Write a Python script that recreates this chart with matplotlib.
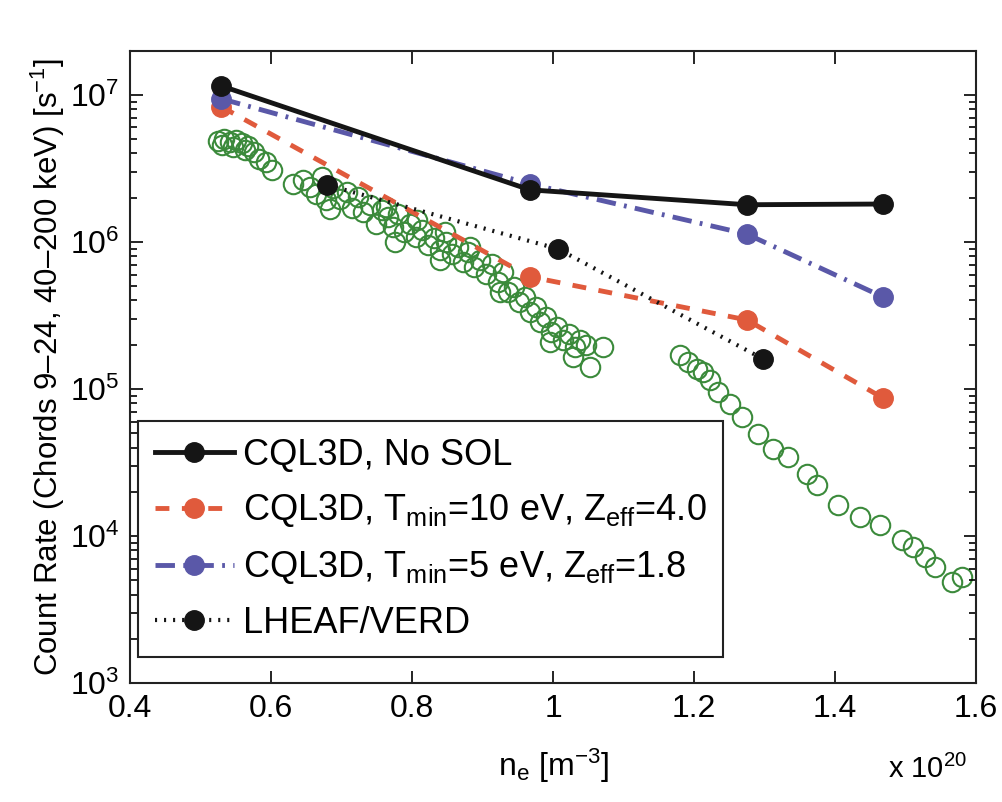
import matplotlib
matplotlib.use("Agg")
import matplotlib.pyplot as plt
from matplotlib.ticker import LogLocator, NullFormatter, FixedLocator

plt.rcParams['font.family'] = ['Liberation Sans', 'DejaVu Sans']
plt.rcParams['mathtext.default'] = 'regular'
plt.rcParams['mathtext.fontset'] = 'custom'
plt.rcParams['mathtext.rm'] = 'Liberation Sans'
plt.rcParams['lines.scale_dashes'] = False

# density (x 1e20 m^-3) and count rate (s^-1)
ne_cql = [0.529, 0.967, 1.275, 1.468]
rate_nosol = [1.15e7, 2.26e6, 1.79e6, 1.81e6]
rate_t10 = [8.3e6, 5.8e5, 2.95e5, 8.7e4]
rate_t5 = [9.4e6, 2.48e6, 1.13e6, 4.23e5]

ne_lheaf = [0.679, 1.007, 1.298]
rate_lheaf = [2.44e6, 8.96e5, 1.60e5]

# measured HXR count rate
ne_meas = [0.525, 0.533, 0.542, 0.550, 0.559, 0.567, 0.530, 0.546, 0.563, 0.576,
           0.582, 0.593, 0.601, 0.631, 0.645, 0.655, 0.664, 0.672, 0.677, 0.688,
           0.698, 0.708, 0.715, 0.723, 0.730, 0.740, 0.749, 0.757, 0.766, 0.773,
           0.780, 0.789, 0.797, 0.806, 0.814, 0.823, 0.831, 0.840, 0.848, 0.857,
           0.865, 0.872, 0.879, 0.888, 0.896, 0.905, 0.913, 0.922, 0.929, 0.936,
           0.945, 0.952, 0.960, 0.967, 0.976, 0.982, 0.990, 0.997, 1.006, 1.014,
           1.023, 1.031, 1.038, 1.047, 1.052, 1.071, 1.028, 0.996, 0.763, 0.807,
           0.847, 0.882, 0.840, 0.925, 0.776, 0.684,
           1.180, 1.191, 1.204, 1.213, 1.223, 1.234, 1.251, 1.268, 1.291, 1.312,
           1.333, 1.360, 1.374, 1.404, 1.435, 1.464, 1.495, 1.511, 1.528, 1.542,
           1.566, 1.580]
rate_meas = [4.87e6, 5.02e6, 4.79e6, 4.94e6, 4.71e6, 4.50e6, 4.57e6, 4.43e6, 4.23e6, 4.09e6,
             3.67e6, 3.50e6, 3.09e6, 2.48e6, 2.64e6, 2.37e6, 2.12e6, 2.77e6, 1.93e6, 2.33e6,
             1.96e6, 2.19e6, 1.70e6, 2.02e6, 1.60e6, 1.79e6, 1.33e6, 1.65e6, 1.48e6, 1.27e6,
             1.55e6, 1.17e6, 1.33e6, 1.08e6, 1.21e6, 9.5e5, 1.06e6, 8.8e5, 1.00e6, 8.3e5,
             9.25e5, 7.3e5, 8.55e5, 6.75e5, 7.55e5, 6.05e5, 7.1e5, 5.35e5, 6.25e5, 4.57e5,
             4.94e5, 3.91e5, 4.23e5, 3.34e5, 3.61e5, 2.86e5, 3.09e5, 2.44e5, 2.64e5, 2.15e5,
             2.37e5, 1.93e5, 2.15e5, 1.99e5, 1.41e5, 1.93e5, 1.65e5, 2.09e5, 1.73e6, 1.41e6,
             1.17e6, 9.25e5, 7.55e5, 4.57e5, 1.00e6, 1.68e6,
             1.70e5, 1.53e5, 1.37e5, 1.31e5, 1.15e5, 9.5e4, 7.9e4, 6.45e4, 4.94e4, 3.91e4,
             3.44e4, 2.64e4, 2.22e4, 1.63e4, 1.35e4, 1.19e4, 9.4e3, 8.4e3, 7.2e3, 6.15e3,
             4.86e3, 5.26e3]

xticks = [0.4, 0.6, 0.8, 1.0, 1.2, 1.4, 1.6]
xticklabels = ['0.4', '0.6', '0.8', '1', '1.2', '1.4', '1.6']

fig = plt.figure(figsize=(10.03, 8.02), dpi=100)
ax = fig.add_axes([0.130, 0.148, 0.843, 0.789])

ax.semilogy(ne_meas, rate_meas, 'o', mfc='none', mec='#3b8a3b', ms=14, mew=1.5, zorder=1)

red = '#e05a3c'
blue = '#5a58a8'
ax.plot(ne_cql, rate_nosol, '-', color='#151515', lw=3.5, marker='o', ms=14,
        label='CQL3D, No SOL', zorder=3)
ax.plot(ne_cql, rate_t10, color=red, lw=3.5, dashes=(10, 9), marker='o', ms=14,
        label='CQL3D, T$_{min}$=10 eV, Z$_{eff}$=4.0', zorder=2)
ax.plot(ne_cql, rate_t5, color=blue, lw=3.5, dashes=(14, 6, 2, 6), marker='o', ms=14,
        label='CQL3D, T$_{min}$=5 eV, Z$_{eff}$=1.8', zorder=2)
ax.plot(ne_lheaf, rate_lheaf, color='#151515', lw=3, dashes=(1.5, 5), marker='o', ms=14,
        label='LHEAF/VERD', zorder=3)

ax.set_xlim(0.4, 1.6)
ax.set_ylim(1e3, 2e7)
ax.xaxis.set_major_locator(FixedLocator(xticks))
ax.set_xticklabels(xticklabels)
ax.yaxis.set_major_locator(LogLocator(base=10, numticks=10))
ax.yaxis.set_minor_locator(LogLocator(base=10, subs=range(2, 10), numticks=20))
ax.yaxis.set_minor_formatter(NullFormatter())

ax.tick_params(which='both', direction='in', top=True, right=True, width=1.2, labelsize=23)
ax.tick_params(which='major', length=9, pad=8)
ax.tick_params(which='minor', length=5)
for s in ax.spines.values():
    s.set_linewidth(1.5)
    s.set_color('#222222')

ax.set_xlabel('n$_e$ [m$^{-3}$]', fontsize=23, labelpad=16)
ax.set_ylabel('Count Rate (Chords 9–24, 40–200 keV) [s$^{-1}$]', fontsize=22.5, labelpad=2)
fig.text(0.925, 0.03, 'x 10$^{20}$', fontsize=21, ha='center')

leg = ax.legend(loc='lower left', bbox_to_anchor=(0.0095, 0.041), borderaxespad=0,
                fontsize=26, fancybox=False, edgecolor='#222222', framealpha=1,
                handlelength=2.2, handletextpad=0.25, borderpad=0.45, labelspacing=0.55)
leg.get_frame().set_linewidth(1.5)

plt.savefig('out.png', dpi=100)
